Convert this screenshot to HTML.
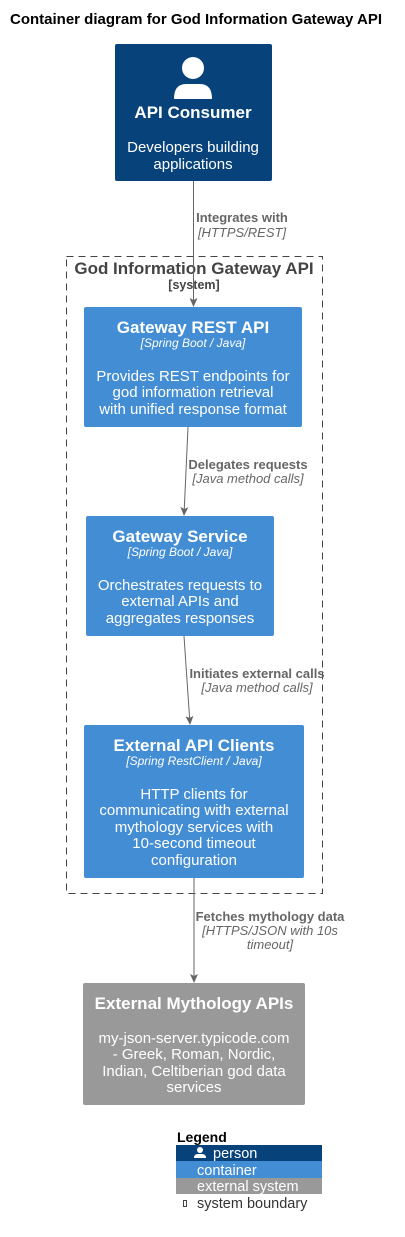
<!DOCTYPE html>
<html><head><meta charset="utf-8"><style>
html,body{margin:0;padding:0;background:#fff;}
svg{display:block;font-family:"Liberation Sans",sans-serif;}
</style></head><body>
<svg width="405" height="1237" viewBox="0 0 405 1237" xmlns="http://www.w3.org/2000/svg">
<defs><marker id="a" markerWidth="10" markerHeight="10" refX="8" refY="4" orient="auto" markerUnits="userSpaceOnUse"><path d="M0,0 L9,4 L0,8 L2,4 Z" fill="#666"/></marker></defs>
<text x="10" y="24" font-size="15" font-weight="bold" fill="#000">Container diagram for God Information Gateway API</text>

<rect x="115" y="44" width="157" height="137" rx="2" fill="#08427B"/>
<circle cx="193" cy="68" r="11" fill="#fff"/>
<path d="M174,99 Q174,84 186,84 L200,84 Q212,84 212,99 Z" fill="#fff"/>
<text x="193" y="118" font-size="17" font-weight="bold" fill="#fff" text-anchor="middle">API Consumer</text>
<text x="193" y="152" font-size="15" fill="#fff" text-anchor="middle">Developers building</text>
<text x="193" y="169" font-size="15" fill="#fff" text-anchor="middle">applications</text>

<rect x="66.5" y="256.5" width="256" height="637" fill="none" stroke="#444" stroke-dasharray="7,5"/>
<text x="194" y="274" font-size="17" font-weight="bold" fill="#444" text-anchor="middle">God Information Gateway API</text>
<text x="194" y="289" font-size="12.5" font-weight="bold" fill="#444" text-anchor="middle">[system]</text>

<g stroke="#666" stroke-width="1" marker-end="url(#a)">
<line x1="193.5" y1="181" x2="193.5" y2="306"/>
<line x1="188" y1="427" x2="184" y2="515"/>
<line x1="184" y1="636" x2="190" y2="724"/>
<line x1="194" y1="878" x2="194" y2="982"/>
</g>
<g font-size="13" fill="#666" text-anchor="middle">
<text x="242" y="222" font-weight="bold">Integrates with</text>
<text x="242" y="237" font-style="italic">[HTTPS/REST]</text>
<text x="248" y="469" font-weight="bold">Delegates requests</text>
<text x="248" y="483" font-style="italic">[Java method calls]</text>
<text x="257" y="678" font-weight="bold">Initiates external calls</text>
<text x="257" y="692" font-style="italic">[Java method calls]</text>
<text x="270" y="921" font-weight="bold">Fetches mythology data</text>
<text x="270" y="935" font-style="italic">[HTTPS/JSON with 10s</text>
<text x="270" y="949" font-style="italic">timeout]</text>
</g>

<rect x="84" y="307" width="218" height="120" rx="2" fill="#438DD5"/>
<g fill="#fff" text-anchor="middle">
<text x="193" y="333" font-size="17" font-weight="bold">Gateway REST API</text>
<text x="193" y="347" font-size="12" font-style="italic">[Spring Boot / Java]</text>
<text x="193" y="381" font-size="15">Provides REST endpoints for</text>
<text x="193" y="397" font-size="15">god information retrieval</text>
<text x="193" y="414" font-size="15">with unified response format</text>
</g>

<rect x="86" y="516" width="188" height="120" rx="2" fill="#438DD5"/>
<g fill="#fff" text-anchor="middle">
<text x="180" y="542" font-size="17" font-weight="bold">Gateway Service</text>
<text x="180" y="556" font-size="12" font-style="italic">[Spring Boot / Java]</text>
<text x="180" y="590" font-size="15">Orchestrates requests to</text>
<text x="180" y="606" font-size="15">external APIs and</text>
<text x="180" y="623" font-size="15">aggregates responses</text>
</g>

<rect x="84" y="725" width="220" height="153" rx="2" fill="#438DD5"/>
<g fill="#fff" text-anchor="middle">
<text x="194" y="751" font-size="17" font-weight="bold">External API Clients</text>
<text x="194" y="765" font-size="12" font-style="italic">[Spring RestClient / Java]</text>
<text x="194" y="799" font-size="15">HTTP clients for</text>
<text x="194" y="815" font-size="15">communicating with external</text>
<text x="194" y="832" font-size="15">mythology services with</text>
<text x="194" y="848" font-size="15">10-second timeout</text>
<text x="194" y="865" font-size="15">configuration</text>
</g>

<rect x="83" y="983" width="222" height="122" rx="2" fill="#999999"/>
<g fill="#fff" text-anchor="middle">
<text x="194" y="1009" font-size="17" font-weight="bold">External Mythology APIs</text>
<text x="194" y="1043" font-size="15">my-json-server.typicode.com</text>
<text x="194" y="1059" font-size="15">- Greek, Roman, Nordic,</text>
<text x="194" y="1076" font-size="15">Indian, Celtiberian god data</text>
<text x="194" y="1092" font-size="15">services</text>
</g>

<text x="177" y="1142" font-size="14" font-weight="bold" fill="#000">Legend</text>
<rect x="176" y="1145" width="146" height="16" fill="#08427B"/>
<rect x="176" y="1161" width="146" height="17" fill="#438DD5"/>
<rect x="176" y="1178" width="146" height="16" fill="#999999"/>
<circle cx="200" cy="1150" r="3" fill="#fff"/>
<path d="M194,1158 Q194,1154 198,1154 L202,1154 Q206,1154 206,1158 Z" fill="#fff"/>
<g font-size="14.5" fill="#fff">
<text x="213" y="1158">person</text>
<text x="197" y="1175">container</text>
<text x="197" y="1191">external system</text>
</g>
<rect x="183.5" y="1200.5" width="3" height="6" fill="none" stroke="#444" stroke-width="1"/>
<text x="197" y="1208" font-size="14.5" fill="#333">system boundary</text>
</svg>
</body></html>
